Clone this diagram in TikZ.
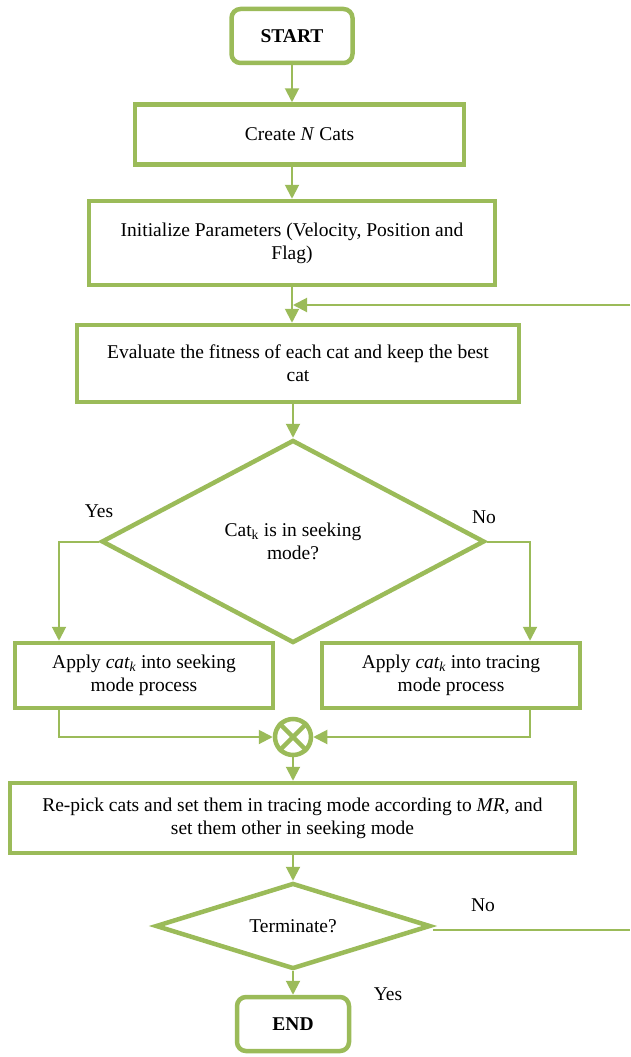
\documentclass[tikz,border=0pt]{standalone}
\usepackage{fontspec}
\setmainfont{Liberation Serif}
\usetikzlibrary{shapes.geometric,arrows.meta}
\definecolor{leaf}{HTML}{9BBB59}

\begin{document}
\begin{tikzpicture}[x=1pt,y=-1pt,
  txt/.style={font=\fontsize{19.5}{23}\selectfont},
  box/.style={draw=leaf, line width=4.5pt, fill=white, align=center, inner sep=0pt, txt},
  terminal/.style={box, rounded corners=9pt, font=\fontsize{19.5}{23}\selectfont\bfseries},
  decision/.style={diamond, aspect=3, draw=leaf, line width=4.5pt, fill=white, align=center, inner sep=0pt, txt},
  link/.style={draw=leaf, line width=2pt, -{Triangle[width=14pt,length=14pt]}},
  plain/.style={draw=leaf, line width=2pt},
  lbl/.style={txt, inner sep=0pt}]

\useasboundingbox (0,0) rectangle (630,1057);

% process nodes
\node[terminal, minimum width=121pt, minimum height=54pt] (start) at (292,36) {START};
\node[box, minimum width=329pt, minimum height=60pt] (create) at (299.5,134.5) {Create \textit{N} Cats};
\node[box, minimum width=406pt, minimum height=84pt] (init) at (292,243) {Initialize Parameters (Velocity, Position and\\Flag)};
\node[box, minimum width=442pt, minimum height=77pt] (eval) at (298,363.5) {Evaluate the fitness of each cat and keep the best\\cat};
\node[decision, minimum width=383pt, minimum height=203pt] (seek) at (293,541.5) {Cat\textsubscript{k} is in seeking\\mode?};
\node[box, minimum width=258pt, minimum height=65pt] (seekp) at (144,675.5) {Apply \textit{cat\textsubscript{k}} into seeking\\mode process};
\node[box, minimum width=258pt, minimum height=65pt] (tracep) at (451,675.5) {Apply \textit{cat\textsubscript{k}} into tracing\\mode process};
\node[circle, draw=leaf, line width=4.5pt, fill=white, minimum size=36pt, inner sep=0pt] (mix) at (293,737) {};
\draw[leaf, line width=4.5pt] (mix.north west) -- (mix.south east) (mix.north east) -- (mix.south west);
\node[box, minimum width=565pt, minimum height=70pt] (repick) at (292.5,818) {Re-pick cats and set them in tracing mode according to \textit{MR}, and\\set them other in seeking mode};
\node[decision, minimum width=275pt, minimum height=86pt] (term) at (293,926) {Terminate?};
\node[terminal, minimum width=112pt, minimum height=54pt] (end) at (293,1024) {END};

% branch columns and loop ends
\coordinate (lcol) at (59,0);
\coordinate (rcol) at (530,0);
\coordinate (loopin) at (630,305);
\coordinate (loopout) at (630,930);

% connectors
\draw[link] (start.south) -- (start.south |- create.north);
\draw[link] (start.south |- create.south) -- (start.south |- init.north);
\draw[link] (init.south) -- (init.south |- eval.north);
\draw[link] (loopin) -- ([xshift=1pt]loopin -| init.south);
\draw[link] (seek.north |- eval.south) -- (seek.north);
\draw[link] (seek.west) -| (lcol |- seekp.north);
\draw[link] (seek.east) -| (rcol |- tracep.north);
\draw[link] (lcol |- seekp.south) |- (mix.west);
\draw[link] (rcol |- tracep.south) |- (mix.east);
\draw[link] (mix.south) -- (mix.south |- repick.north);
\draw[link] (term.north |- repick.south) -- (term.north);
\draw[link] (term.south) -- (term.south |- end.north);
\draw[plain] (term.east |- loopout) -- (loopout);

% branch labels
\node[lbl] (yes1) at (99,511) {Yes};
\node[lbl] (no1) at (484,517) {No};
\node[lbl] (no2) at (483,905) {No};
\node[lbl] (yes2) at (388,994) {Yes};
\end{tikzpicture}
\end{document}
